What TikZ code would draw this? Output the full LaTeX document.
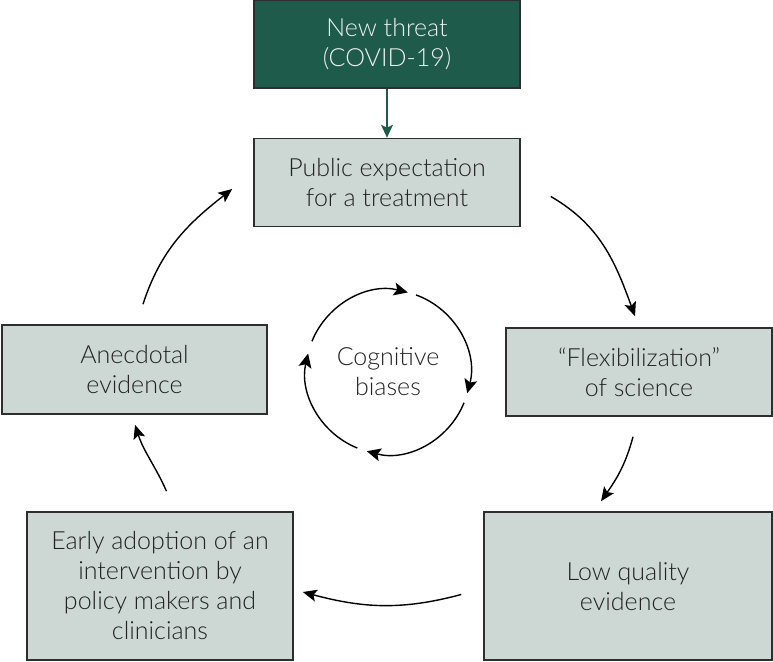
\documentclass[tikz,border=0pt]{standalone}
\usepackage{fontspec}
\setmainfont{Lato Light}
\usetikzlibrary{arrows.meta}
\definecolor{boxfill}{HTML}{CDD8D4}
\definecolor{darkgreen}{HTML}{1E5B4B}
\definecolor{boxline}{HTML}{2E2E2E}
\definecolor{txt}{HTML}{222222}
\tikzset{
  cyclebox/.style={draw=boxline, line width=1.6pt, fill=boxfill, text=txt, align=center, inner sep=0pt,
    font=\fontsize{25}{30}\selectfont},
  threatbox/.style={cyclebox, fill=darkgreen, draw=boxline, text=white!92!darkgreen},
  arr/.style={line width=1.4pt, -{Stealth[length=14pt,width=12pt,inset=3pt]}},
  garr/.style={arr, draw=darkgreen, -{Stealth[length=13pt,width=12pt,inset=3pt]}},
  carr/.style={line width=1.4pt, -{Stealth[length=14pt,width=13pt,inset=3pt]}}
}
\begin{document}
\begin{tikzpicture}[x=1pt,y=1pt]
\useasboundingbox (0,0) rectangle (773,661);
\node[threatbox, minimum width=266pt, minimum height=88pt] (threat) at (387,617) {New threat\\(COVID-19)};
\node[cyclebox, minimum width=266pt, minimum height=88pt] (public) at (387,478.5) {Public expectation\\for a treatment};
\node[cyclebox, minimum width=266pt, minimum height=88pt] (flex) at (639,289) {``Flexibilization''\\of science};
\node[cyclebox, minimum width=265pt, minimum height=89pt] (anec) at (134.5,291.5) {Anecdotal\\evidence};
\node[cyclebox, minimum width=288pt, minimum height=148pt] (low) at (628,75) {Low quality\\evidence};
\node[cyclebox, minimum width=266pt, minimum height=148pt] (early) at (160,75) {Early adoption of an\\intervention by\\policy makers and\\clinicians};
\node[text=txt, align=center, font=\fontsize{25}{30}\selectfont] (bias) at (388,289) {Cognitive\\biases};

\draw[garr] (threat.south) -- (public.north);

\draw[arr] ([shift={(30,-14)}]public.east) to[out=-30, in=110] ([shift={(-4,11)}]flex.north);
\draw[arr] ([shift={(-6,-20)}]flex.south) to[out=-105, in=55] ([shift={(-27,10)}]low.north);
\draw[arr] ([shift={(-22,-8.5)}]low.west) to[out=195, in=-15] ([shift={(9,-6)}]early.east);
\draw[arr] ([shift={(6.5,20)}]early.north) to[out=114, in=-72] ([shift={(0.5,-10)}]anec.south);
\draw[arr] ([shift={(8.5,20)}]anec.north) to[out=72, in=-142] ([shift={(-21,-6.5)}]public.west);

\draw[carr] (bias.center) ++(158:82) arc[start angle=158, end angle=76, radius=82];
\draw[carr] (bias.center) ++(70:82) arc[start angle=70, end angle=-15, radius=82];
\draw[carr] (bias.center) ++(-22:82) arc[start angle=-22, end angle=-105, radius=82];
\draw[carr] (bias.center) ++(-112:82) arc[start angle=-112, end angle=-193, radius=82];
\end{tikzpicture}
\end{document}
